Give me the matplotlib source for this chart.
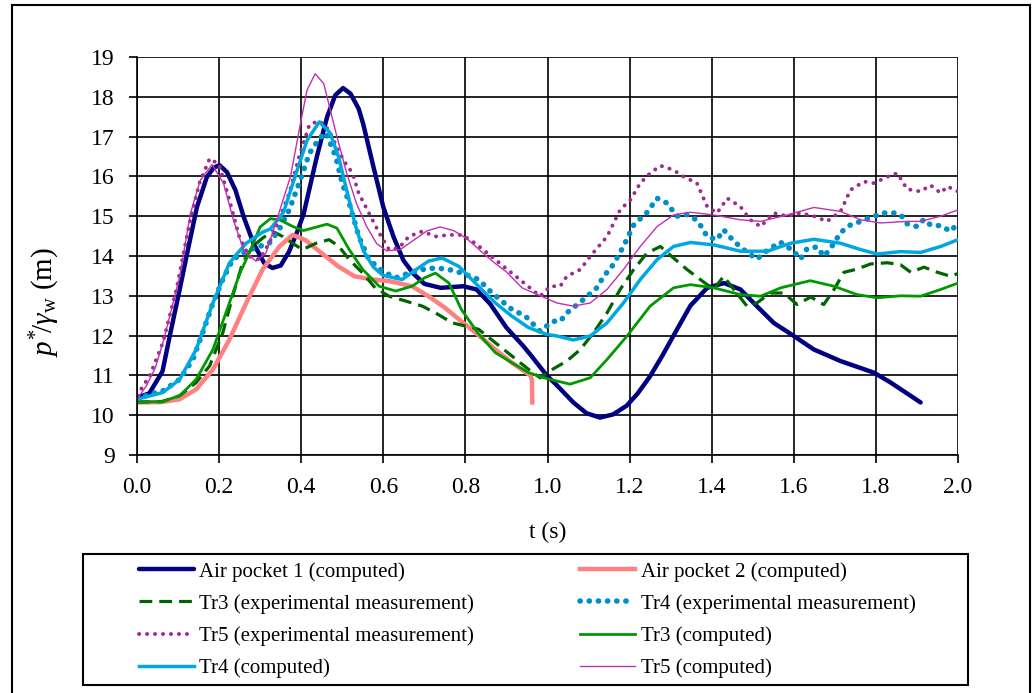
import numpy as np
import matplotlib.pyplot as plt
from matplotlib.patches import Rectangle

# --- data ---
ap1_t = [0.0, 0.03, 0.062, 0.08, 0.104, 0.122, 0.146, 0.17, 0.187, 0.201, 0.219, 0.24, 0.26, 0.284,
         0.31, 0.33, 0.35, 0.37, 0.39, 0.406, 0.438, 0.463, 0.483, 0.502, 0.52, 0.54, 0.551, 0.576,
         0.60, 0.625, 0.649, 0.673, 0.70, 0.74, 0.795, 0.827, 0.86, 0.90, 0.94, 0.96, 0.998, 1.023,
         1.063, 1.095, 1.128, 1.16, 1.193, 1.22, 1.25, 1.28, 1.307, 1.348, 1.389, 1.43, 1.47, 1.51,
         1.551, 1.60, 1.649, 1.714, 1.795, 1.836, 1.909]
ap1_p = [10.44, 10.55, 11.1, 12.0, 13.16, 14.06, 15.23, 15.98, 16.22, 16.28, 16.11, 15.65, 14.98, 14.31,
         13.82, 13.7, 13.76, 14.1, 14.6, 15.06, 16.49, 17.49, 18.04, 18.22, 18.08, 17.7, 17.32, 16.24,
         15.23, 14.48, 13.89, 13.56, 13.3, 13.2, 13.24, 13.16, 12.8, 12.2, 11.75, 11.5, 11.0, 10.75,
         10.32, 10.05, 9.94, 10.02, 10.24, 10.55, 10.98, 11.5, 12.0, 12.75, 13.2, 13.32, 13.16, 12.74,
         12.32, 11.99, 11.65, 11.36, 11.07, 10.82, 10.32]

ap2_t = [0.0, 0.06, 0.104, 0.144, 0.185, 0.225, 0.266, 0.306, 0.347, 0.379, 0.41, 0.45, 0.49, 0.53,
         0.573, 0.614, 0.67, 0.71, 0.75, 0.79, 0.83, 0.873, 0.913, 0.958, 0.962, 0.963]
ap2_p = [10.32, 10.33, 10.4, 10.65, 11.15, 11.9, 12.82, 13.66, 14.24, 14.53, 14.4, 14.07, 13.74, 13.49,
         13.41, 13.37, 13.24, 12.99, 12.7, 12.36, 12.03, 11.65, 11.32, 11.0, 10.9, 10.32]

tr3c_t = [0.0, 0.06, 0.104, 0.144, 0.185, 0.225, 0.25, 0.276, 0.30, 0.325, 0.349, 0.382, 0.406, 0.438,
          0.463, 0.487, 0.517, 0.55, 0.59, 0.63, 0.67, 0.70, 0.727, 0.76, 0.79, 0.83, 0.873, 0.913,
          0.954, 0.998, 1.055, 1.104, 1.145, 1.193, 1.25, 1.307, 1.348, 1.405, 1.47, 1.519, 1.568, 1.64,
          1.698, 1.754, 1.803, 1.86, 1.909, 1.958, 2.0]
tr3c_p = [10.33, 10.34, 10.49, 10.9, 11.65, 12.82, 13.55, 14.14, 14.73, 14.94, 14.9, 14.73, 14.64, 14.73,
          14.8, 14.7, 14.16, 13.66, 13.24, 13.12, 13.24, 13.45, 13.57, 13.32, 12.66, 12.07, 11.57, 11.32,
          11.07, 10.92, 10.78, 10.94, 11.4, 11.98, 12.74, 13.2, 13.28, 13.2, 13.03, 12.99, 13.2, 13.38,
          13.24, 13.03, 12.95, 13.0, 12.99, 13.16, 13.32]

tr4c_t = [0.0, 0.063, 0.104, 0.144, 0.185, 0.225, 0.244, 0.266, 0.306, 0.325, 0.357, 0.39, 0.414, 0.444,
          0.47, 0.491, 0.511, 0.531, 0.551, 0.576, 0.60, 0.646, 0.68, 0.71, 0.743, 0.784, 0.832, 0.873,
          0.913, 0.954, 0.998, 1.023, 1.063, 1.104, 1.145, 1.185, 1.226, 1.267, 1.307, 1.348, 1.405, 1.47,
          1.535, 1.592, 1.649, 1.714, 1.763, 1.803, 1.86, 1.909, 1.958, 2.0]
tr4c_p = [10.4, 10.57, 10.9, 11.65, 12.82, 13.82, 14.06, 14.32, 14.6, 14.68, 15.1, 16.15, 16.9, 17.37,
          17.1, 16.49, 15.65, 14.81, 14.14, 13.72, 13.51, 13.41, 13.66, 13.87, 13.95, 13.74, 13.24, 12.82,
          12.49, 12.2, 12.03, 11.99, 11.89, 11.99, 12.32, 12.82, 13.41, 13.91, 14.24, 14.34, 14.28, 14.12,
          14.12, 14.32, 14.42, 14.32, 14.16, 14.05, 14.11, 14.09, 14.24, 14.41]

tr5c_t = [0.0, 0.023, 0.045, 0.063, 0.085, 0.104, 0.13, 0.154, 0.183, 0.211, 0.235, 0.26, 0.29, 0.314,
          0.338, 0.374, 0.398, 0.414, 0.434, 0.455, 0.471, 0.487, 0.511, 0.535, 0.56, 0.584, 0.608,
          0.641, 0.673, 0.706, 0.738, 0.771, 0.803, 0.836, 0.868, 0.90, 0.938, 0.998, 1.023, 1.063,
          1.104, 1.145, 1.185, 1.226, 1.267, 1.307, 1.348, 1.405, 1.47, 1.519, 1.584, 1.649, 1.714,
          1.763, 1.811, 1.876, 1.909, 1.958, 2.0]
tr5c_p = [10.4, 10.74, 11.2, 11.82, 12.7, 13.49, 15.06, 15.9, 16.3, 15.82, 14.9, 14.14, 13.87, 14.07,
          14.83, 16.0, 17.32, 18.16, 18.58, 18.33, 17.66, 17.0, 16.07, 15.31, 14.73, 14.31, 14.13,
          14.16, 14.39, 14.63, 14.73, 14.64, 14.44, 14.14, 13.85, 13.6, 13.2, 12.93, 12.82, 12.74,
          12.82, 13.16, 13.66, 14.24, 14.74, 15.03, 15.1, 15.03, 14.91, 14.87, 15.03, 15.22, 15.12,
          14.91, 14.83, 14.87, 14.87, 15.0, 15.16]

tr3e_t = [0.0, 0.06, 0.104, 0.144, 0.177, 0.209, 0.233, 0.257, 0.282, 0.306, 0.33, 0.355, 0.379, 0.403,
          0.436, 0.468, 0.492, 0.517, 0.55, 0.58, 0.614, 0.654, 0.695, 0.727, 0.768, 0.80, 0.832, 0.873,
          0.913, 0.954, 0.982, 1.015, 1.047, 1.08, 1.112, 1.145, 1.177, 1.21, 1.242, 1.275, 1.307, 1.34,
          1.372, 1.405, 1.429, 1.454, 1.486, 1.51, 1.543, 1.576, 1.608, 1.641, 1.673, 1.698, 1.722, 1.754,
          1.787, 1.828, 1.86, 1.885, 1.917, 1.95, 1.982, 2.0]
tr3e_p = [10.33, 10.34, 10.49, 10.82, 11.24, 12.07, 12.99, 13.82, 14.24, 14.45, 14.62, 14.49, 14.32, 14.16,
          14.32, 14.41, 14.24, 13.91, 13.57, 13.2, 12.99, 12.87, 12.74, 12.57, 12.32, 12.24, 12.16, 11.82,
          11.49, 11.15, 10.94, 11.17, 11.36, 11.65, 12.07, 12.57, 13.16, 13.66, 14.07, 14.24, 13.95, 13.66,
          13.41, 13.16, 13.49, 13.16, 12.74, 12.82, 13.07, 13.07, 12.78, 12.97, 12.78, 13.16, 13.59, 13.67,
          13.8, 13.83, 13.78, 13.59, 13.72, 13.59, 13.49, 13.56]

tr4e_t = [0.0, 0.031, 0.063, 0.104, 0.136, 0.16, 0.185, 0.209, 0.233, 0.266, 0.298, 0.322, 0.346, 0.371,
          0.395, 0.42, 0.444, 0.46, 0.484, 0.50, 0.517, 0.54, 0.565, 0.598, 0.63, 0.662, 0.695, 0.727,
          0.76, 0.792, 0.832, 0.865, 0.913, 0.946, 0.982, 0.998, 1.015, 1.031, 1.047, 1.063, 1.088, 1.12,
          1.137, 1.16, 1.185, 1.21, 1.242, 1.267, 1.291, 1.315, 1.34, 1.356, 1.372, 1.389, 1.413, 1.429,
          1.454, 1.478, 1.51, 1.535, 1.567, 1.60, 1.616, 1.632, 1.657, 1.673, 1.689, 1.714, 1.738, 1.763,
          1.795, 1.82, 1.844, 1.86, 1.876, 1.90, 1.917, 1.933, 1.958, 1.982, 2.0]
tr4e_p = [10.4, 10.53, 10.61, 10.9, 11.4, 12.07, 12.82, 13.41, 13.91, 14.12, 14.24, 14.32, 14.66, 15.16,
          15.83, 16.58, 16.95, 17.1, 16.5, 15.83, 15.33, 14.5, 13.91, 13.62, 13.45, 13.57, 13.66, 13.7,
          13.66, 13.57, 13.41, 13.07, 12.66, 12.49, 12.11, 12.24, 12.36, 12.36, 12.57, 12.7, 12.91, 13.2,
          13.49, 13.78, 14.24, 14.78, 15.09, 15.45, 15.33, 15.0, 15.04, 14.96, 14.78, 14.49, 14.41, 14.66,
          14.37, 14.16, 13.92, 14.14, 14.35, 14.12, 13.92, 14.18, 14.23, 13.99, 14.18, 14.59, 14.78, 14.87,
          15.0, 15.08, 15.08, 15.04, 14.81, 14.74, 14.92, 14.78, 14.76, 14.62, 14.83]

tr5e_t = [0.0, 0.031, 0.063, 0.096, 0.128, 0.152, 0.177, 0.20, 0.225, 0.249, 0.273, 0.298, 0.322, 0.346,
          0.371, 0.395, 0.42, 0.444, 0.468, 0.49, 0.508, 0.525, 0.54, 0.565, 0.59, 0.614, 0.638, 0.662,
          0.695, 0.727, 0.76, 0.792, 0.824, 0.873, 0.913, 0.962, 0.982, 1.007, 1.031, 1.047, 1.08, 1.104,
          1.145, 1.177, 1.202, 1.226, 1.25, 1.275, 1.307, 1.332, 1.364, 1.389, 1.413, 1.438, 1.47, 1.494,
          1.519, 1.551, 1.584, 1.616, 1.649, 1.681, 1.714, 1.738, 1.771, 1.795, 1.828, 1.852, 1.876, 1.909,
          1.933, 1.958, 1.974, 2.0]
tr5e_p = [10.5, 10.99, 11.82, 13.16, 14.83, 15.83, 16.45, 16.3, 15.41, 14.49, 13.99, 13.91, 14.32, 14.91,
          15.58, 16.5, 17.3, 17.4, 17.16, 16.66, 16.33, 16.08, 15.58, 15.08, 14.58, 14.16, 14.2, 14.49,
          14.62, 14.49, 14.53, 14.53, 14.32, 13.91, 13.57, 13.16, 12.99, 13.24, 13.24, 13.49, 13.66, 13.99,
          14.49, 15.16, 15.41, 15.83, 16.08, 16.27, 16.16, 15.99, 15.83, 15.24, 15.08, 15.45, 15.24, 14.91,
          14.74, 15.08, 15.0, 15.08, 15.0, 14.87, 15.12, 15.66, 15.87, 15.83, 15.99, 16.08, 15.68, 15.62,
          15.78, 15.58, 15.75, 15.62]

xticks = np.arange(0.0, 2.01, 0.2)
yticks = np.arange(9, 20, 1)

plt.rcParams['font.family'] = ['Liberation Serif', 'DejaVu Serif']
plt.rcParams['mathtext.fontset'] = 'custom'
plt.rcParams['mathtext.rm'] = 'Liberation Serif'
plt.rcParams['mathtext.it'] = 'Liberation Serif:italic'

fig = plt.figure(figsize=(10.35, 6.93), dpi=100)
ax = fig.add_axes([137 / 1035, 1 - 455 / 693, (958 - 137) / 1035, (455 - 57) / 693])

l_ap1, = ax.plot(ap1_t, ap1_p, color='#000080', lw=3.2, solid_capstyle='round',
                 label='Air pocket 1 (computed)')
l_ap2, = ax.plot(ap2_t, ap2_p, color='#FF8080', lw=3.2, label='Air pocket 2 (computed)')
l_tr3e, = ax.plot(tr3e_t, tr3e_p, color='#006400', lw=2.3, linestyle=(0, (4, 2.2)),
                  label='Tr3 (experimental measurement)')
l_tr4e, = ax.plot(tr4e_t, tr4e_p, color='#0090C8', lw=4, linestyle=(0, (0.05, 1.6)),
                  dash_capstyle='round', label='Tr4 (experimental measurement)')
l_tr5e, = ax.plot(tr5e_t, tr5e_p, color='#9E2A8E', lw=2.8, linestyle=(0, (0.05, 2.0)),
                  dash_capstyle='round', label='Tr5 (experimental measurement)')
l_tr3c, = ax.plot(tr3c_t, tr3c_p, color='#009900', lw=2, label='Tr3 (computed)')
l_tr4c, = ax.plot(tr4c_t, tr4c_p, color='#00A8E0', lw=2.5, label='Tr4 (computed)')
l_tr5c, = ax.plot(tr5c_t, tr5c_p, color='#C030B0', lw=1, label='Tr5 (computed)')

ax.set_xlim(0, 2.0)
ax.set_ylim(9, 19)
ax.set_xticks(xticks)
ax.set_xticklabels([f'{v:.1f}' for v in xticks])
ax.set_yticks(yticks)
ax.grid(True, color='black', lw=1.2)
ax.set_axisbelow(True)
for s in ['top', 'right']:
    ax.spines[s].set_visible(False)
for s in ['left', 'bottom']:
    ax.spines[s].set_linewidth(1.2)
ax.tick_params(direction='out', length=6, width=1.2, labelsize=17, pad=10)
ax.set_xlabel('t (s)', fontsize=17, labelpad=17)
ax.set_ylabel(r'$p^{*}\!/\gamma_{\mathrm{w}}$ (m)', fontsize=21)
ax.yaxis.set_label_coords(-0.091, 0.384)

# outer frame and legend frame
fig.patches.append(Rectangle((12 / 1035, -0.01), (1030 - 12) / 1035, 1 - 5 / 693 + 0.01,
                             transform=fig.transFigure, fill=False, ec='black', lw=1.5))
fig.patches.append(Rectangle((83 / 1035, 1 - 685 / 693), (968 - 83) / 1035, (685 - 554) / 693,
                             transform=fig.transFigure, fill=False, ec='black', lw=1.5))

handles = [l_ap1, l_tr3e, l_tr5e, l_tr4c, l_ap2, l_tr4e, l_tr3c, l_tr5c]
fig.legend(handles, [h.get_label() for h in handles], ncol=2, frameon=False, fontsize=15,
           loc='center', bbox_to_anchor=(527 / 1035, 1 - 620 / 693), handlelength=2.65,
           handletextpad=0.25, columnspacing=5.1, labelspacing=0.6)

fig.savefig('out.png', dpi=100)
